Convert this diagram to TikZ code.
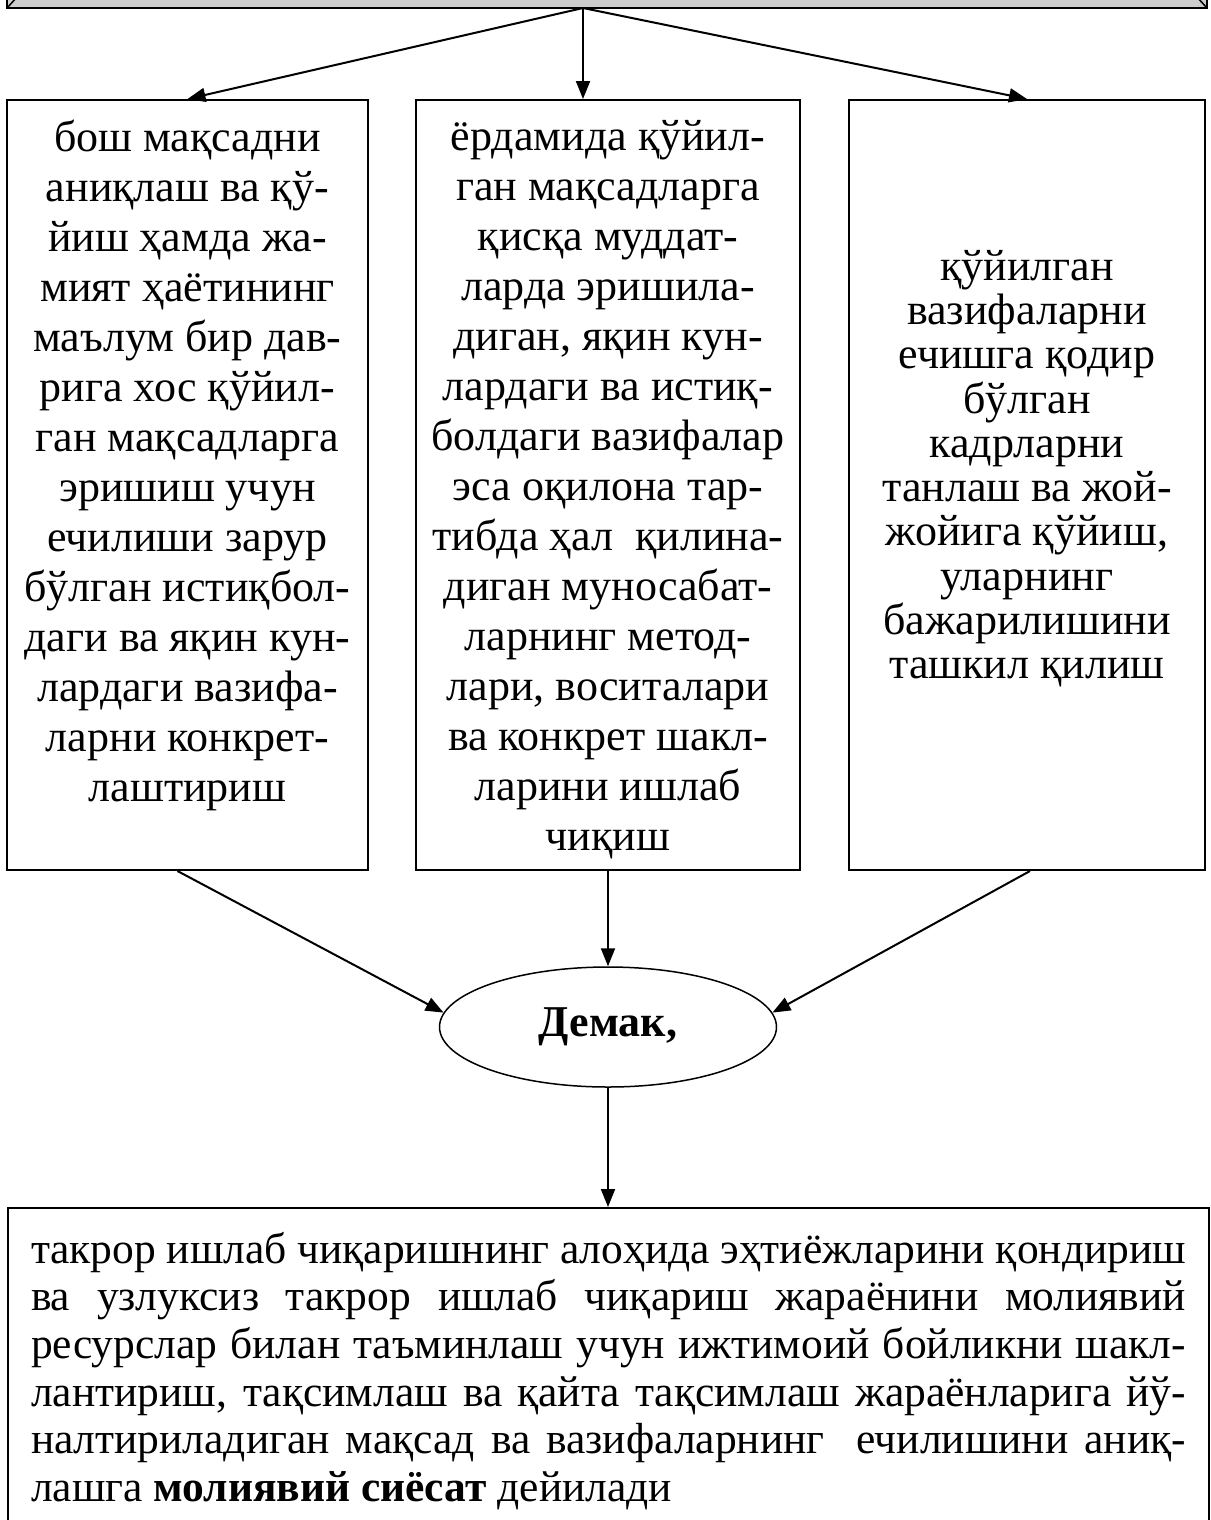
\documentclass[tikz,border=0pt]{standalone}
\usepackage{fontspec}
\setmainfont{Liberation Serif}
\usepackage{tikz}
\usetikzlibrary{arrows.meta, positioning, shapes.geometric, calc}

% text of a column box, top aligned
\newcommand{\colbody}[2]{\parbox[c][730pt][t]{#1}{\centering #2}}

\tikzset{
  box/.style={draw, line width=2pt, inner xsep=0pt, inner ysep=20pt,
    font=\fontsize{44}{50}\selectfont},
  link/.style={line width=2pt, -{Triangle[length=18pt,width=14pt]}},
}

\begin{document}
\begin{tikzpicture}[x=1pt,y=-1pt]
\useasboundingbox (0,0) rectangle (1210,1520);
\begin{scope}
\clip (0,0) rectangle (1210,1520);

% top box, only its lower edge shows
\fill[black!20] (7,-60) rectangle (1207,8);
\draw[line width=2pt] (7,-60) -- (7,8) -- (1207,8) -- (1207,-60);
\draw[line width=1.5pt] (7,8) -- (18,-4) (1207,8) -- (1196,-4);
\coordinate (src) at (583,8);

% three boxes
\node[box] (goal) at (187.5,485) {\colbody{361pt}{бош мақсадни\\ аниқлаш ва қў-\\ йиш ҳамда жа-\\ мият ҳаётининг\\ маълум бир дав-\\ рига хос қўйил-\\ ган мақсадларга\\ эришиш учун\\ ечилиши зарур\\ бўлган истиқбол-\\ даги ва яқин кун-\\ лардаги вазифа-\\ ларни конкрет-\\ лаштириш}};
\node[box] (method) at (608,485) {\colbody{384pt}{ёрдамида қўйил-\\ ган мақсадларга\\ қисқа муддат-\\ ларда эришила-\\ диган, яқин кун-\\ лардаги ва истиқ-\\ болдаги вазифалар\\ эса оқилона тар-\\ тибда ҳал \ қилина-\\ диган муносабат-\\ ларнинг метод-\\ лари, воситалари\\ ва конкрет шакл-\\ ларини ишлаб\\ чиқиш}};
\node[box, font=\fontsize{44}{44.3}\selectfont] (staff) at (1027,485) {\colbody{356pt}{\vspace*{130pt}қўйилган\\ вазифаларни\\ ечишга қодир\\ бўлган\\ кадрларни\\ танлаш ва жой-\\ жойига қўйиш,\\ уларнинг\\ бажарилишини\\ ташкил қилиш}};

% result
\node[draw, ellipse, line width=1.5pt, minimum width=337pt, minimum height=120pt,
  font=\fontsize{44}{50}\selectfont\bfseries] (sum) at (608,1027) {Демак,};

% definition, its lower edge is cut off
\node[draw, line width=2pt, anchor=north west, text width=1155pt, inner xsep=23pt,
  inner ysep=24pt, align=justify, font=\fontsize{43.5}{47.7}\selectfont] (def) at (7,1207)
  {\hyphenpenalty=10000\tolerance=10000
   такрор ишлаб чиқаришнинг алоҳида эҳтиёжларини қондириш\linebreak
   ва узлуксиз такрор ишлаб чиқариш жараёнини молиявий\linebreak
   ресурслар билан таъминлаш учун ижтимоий бойликни шакл-\linebreak
   лантириш, тақсимлаш ва қайта тақсимлаш жараёнларига йў-\linebreak
   налтириладиган мақсад ва вазифаларнинг \ ечилишини аниқ-\linebreak
   лашга \textbf{молиявий сиёсат} дейилади};

\draw[link] (src) -- (goal.north);
\draw[link] (src) -- (src |- method.north);
\draw[link] (src) -- (staff.north);
\draw[link] ([xshift=-10pt]goal.south) -- (sum.175);
\draw[link] (method.south) -- (sum.north);
\draw[link] ([xshift=3pt]staff.south) -- (sum.5);
\draw[link] (sum.south) -- (sum.south |- def.north);
\end{scope}
\end{tikzpicture}
\end{document}
